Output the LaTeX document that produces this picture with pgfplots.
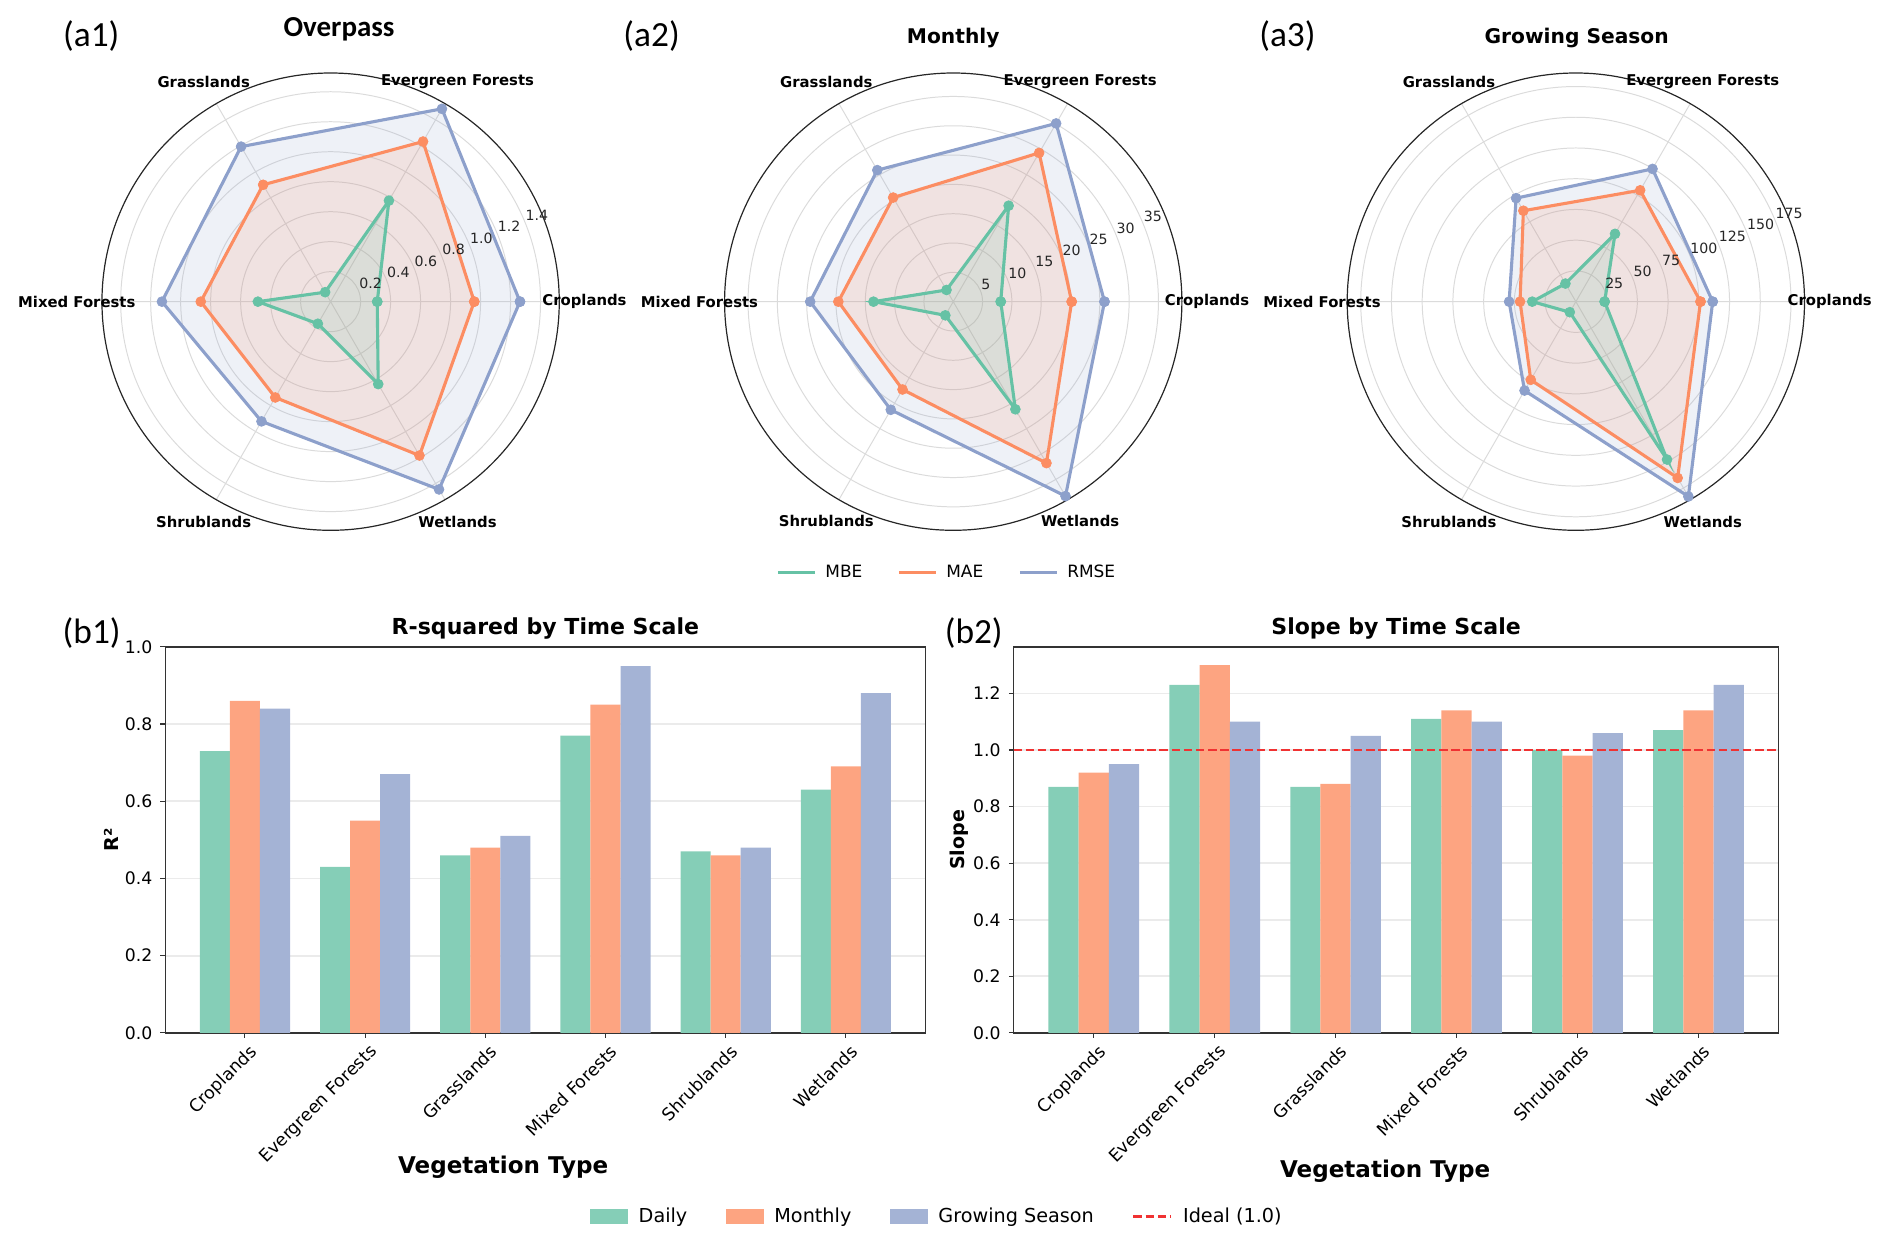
\documentclass[border=0pt]{standalone}
\usepackage{fontspec}
\setmainfont{DejaVu Sans}
\newfontfamily\carlito{Carlito}
\usepackage{pgfplots}
\pgfplotsset{compat=1.18}
\usepgfplotslibrary{polar}

\definecolor{mbe}{HTML}{66C2A5}
\definecolor{mae}{HTML}{FC8D62}
\definecolor{rmse}{HTML}{8DA0CB}
\definecolor{dailyc}{RGB}{133,206,183}
\definecolor{monthlyc}{RGB}{253,164,129}
\definecolor{growc}{RGB}{164,179,213}
\definecolor{idealc}{RGB}{240,50,50}

\newcommand{\fsz}[1]{\fontsize{#1pt}{#1pt}\selectfont}

\tikzset{
    catlabel/.style={font=\fsz{10.5}\bfseries, anchor=center, inner sep=0pt},
    rlabel/.style={font=\fsz{10}, text=black!85, anchor=south west, inner sep=0.5pt},
}

\pgfplotsset{
    radarStyle/.style={
        anchor=center,
        scale only axis, width=11.37cm, height=11.37cm,
        xmin=0, xmax=360, ymin=0,
        xtick={0,60,...,300},
        xticklabels={}, yticklabels={},
        major tick length=0pt,
        grid=major,
        major grid style={black!14, line width=0.7pt},
        x axis line style={black!85, line width=0.85pt},
        y axis line style={draw=none},
        clip=false,
    },
    radarseries/.style={
        draw=#1, line width=2.2pt, fill=#1, fill opacity=0.15,
        mark=*, mark size=3.5pt,
        mark options={fill=#1, draw=#1, fill opacity=1, draw opacity=1, line width=0.5pt}
    },
    barStyle/.style={
        anchor=south west,
        scale only axis, height=9.6cm,
        xmin=-0.6625, xmax=5.6625, ymin=0,
        xtick={0,...,5},
        xticklabels={Croplands,Evergreen Forests,Grasslands,Mixed Forests,Shrublands,Wetlands},
        xtick pos=bottom, ytick pos=left, tick align=outside,
        major tick length=0.12cm,
        tick style={black!80, line width=0.8pt},
        ymajorgrids,
        major grid style={black!8, line width=1.2pt},
        axis line style={black!80, line width=1.1pt},
        x tick label style={rotate=45, anchor=north east, font=\fsz{12.3}, inner sep=1pt, yshift=-0.12cm},
        y tick label style={font=\fsz{12.2}, xshift=-0.08cm},
        ybar, bar width=0.25,
    },
}

\begin{document}
\begin{tikzpicture}
\useasboundingbox (0,0) rectangle (47.04,30.96);

% ---------------- (a1) Overpass ----------------
\begin{polaraxis}[radarStyle, at={(8.22cm,23.46cm)}, ymax=1.525,
    ytick={0.2,0.4,0.6,0.8,1.0,1.2,1.4}]
\addplot[radarseries=rmse] coordinates {(0,1.263) (60,1.485) (120,1.194) (180,1.125) (240,0.922) (300,1.446) (360,1.263)};
\addplot[radarseries=mae] coordinates {(0,0.958) (60,1.233) (120,0.900) (180,0.866) (240,0.738) (300,1.185) (360,0.958)};
\addplot[radarseries=mbe] coordinates {(0,0.311) (60,0.778) (120,0.073) (180,0.485) (240,0.170) (300,0.635) (360,0.311)};
\node[catlabel] at (axis cs:0,1.693) {Croplands};
\node[catlabel] at (axis cs:60,1.693) {Evergreen Forests};
\node[catlabel] at (axis cs:120,1.693) {Grasslands};
\node[catlabel] at (axis cs:180,1.693) {Mixed Forests};
\node[catlabel] at (axis cs:240,1.693) {Shrublands};
\node[catlabel] at (axis cs:300,1.693) {Wetlands};
\node[rlabel] at (axis cs:22.5,0.2) {0.2};
\node[rlabel] at (axis cs:22.5,0.4) {0.4};
\node[rlabel] at (axis cs:22.5,0.6) {0.6};
\node[rlabel] at (axis cs:22.5,0.8) {0.8};
\node[rlabel] at (axis cs:22.5,1.0) {1.0};
\node[rlabel] at (axis cs:22.5,1.2) {1.2};
\node[rlabel] at (axis cs:22.5,1.4) {1.4};
\end{polaraxis}

% ---------------- (a2) Monthly ----------------
\begin{polaraxis}[radarStyle, at={(23.70cm,23.46cm)}, ymax=39.0,
    ytick={5,10,...,35}]
\addplot[radarseries=rmse] coordinates {(0,25.8) (60,35.1) (120,25.9) (180,24.4) (240,21.3) (300,38.3) (360,25.8)};
\addplot[radarseries=mae] coordinates {(0,20.2) (60,29.3) (120,20.5) (180,19.6) (240,17.3) (300,31.8) (360,20.2)};
\addplot[radarseries=mbe] coordinates {(0,8.1) (60,18.9) (120,2.3) (180,13.6) (240,2.7) (300,21.2) (360,8.1)};
\node[catlabel] at (axis cs:0,43.29) {Croplands};
\node[catlabel] at (axis cs:60,43.29) {Evergreen Forests};
\node[catlabel] at (axis cs:120,43.29) {Grasslands};
\node[catlabel] at (axis cs:180,43.29) {Mixed Forests};
\node[catlabel] at (axis cs:240,43.29) {Shrublands};
\node[catlabel] at (axis cs:300,43.29) {Wetlands};
\node[rlabel] at (axis cs:22.5,5) {5};
\node[rlabel] at (axis cs:22.5,10) {10};
\node[rlabel] at (axis cs:22.5,15) {15};
\node[rlabel] at (axis cs:22.5,20) {20};
\node[rlabel] at (axis cs:22.5,25) {25};
\node[rlabel] at (axis cs:22.5,30) {30};
\node[rlabel] at (axis cs:22.5,35) {35};
\end{polaraxis}

% ---------------- (a3) Growing Season ----------------
\begin{polaraxis}[radarStyle, at={(39.18cm,23.46cm)}, ymax=186,
    ytick={25,50,...,175}]
\addplot[radarseries=rmse] coordinates {(0,111.3) (60,124.7) (120,97.2) (180,54.3) (240,83.5) (300,183.0) (360,111.3)};
\addplot[radarseries=mae] coordinates {(0,101.4) (60,104.6) (120,85.4) (180,45.4) (240,73.4) (300,165.6) (360,101.4)};
\addplot[radarseries=mbe] coordinates {(0,23.4) (60,63.7) (120,17.0) (180,35.5) (240,9.9) (300,148.3) (360,23.4)};
\node[catlabel] at (axis cs:0,206.5) {Croplands};
\node[catlabel] at (axis cs:60,206.5) {Evergreen Forests};
\node[catlabel] at (axis cs:120,206.5) {Grasslands};
\node[catlabel] at (axis cs:180,206.5) {Mixed Forests};
\node[catlabel] at (axis cs:240,206.5) {Shrublands};
\node[catlabel] at (axis cs:300,206.5) {Wetlands};
\node[rlabel] at (axis cs:22.5,25) {25};
\node[rlabel] at (axis cs:22.5,50) {50};
\node[rlabel] at (axis cs:22.5,75) {75};
\node[rlabel] at (axis cs:22.5,100) {100};
\node[rlabel] at (axis cs:22.5,125) {125};
\node[rlabel] at (axis cs:22.5,150) {150};
\node[rlabel] at (axis cs:22.5,175) {175};
\end{polaraxis}

% radar legend
\begin{axis}[hide axis, at={(23.55cm,16.72cm)}, anchor=center,
    scale only axis, width=1cm, height=1cm, xmin=0, xmax=1, ymin=0, ymax=1,
    legend columns=3,
    legend image code/.code={\draw[#1] (0cm,0cm) -- (0.93cm,0cm);},
    legend style={at={(0.5,0.5)}, anchor=center, draw=none, fill=none,
        font=\fsz{12}, inner sep=0pt,
        /tikz/every odd column/.style={column sep=0.14cm},
        /tikz/every even column/.style={column sep=0.8cm}}]
\addlegendimage{mbe, line width=2.2pt}
\addlegendentry{MBE}
\addlegendimage{mae, line width=2.2pt}
\addlegendentry{MAE}
\addlegendimage{rmse, line width=2.2pt}
\addlegendentry{RMSE}
\end{axis}

% ---------------- (b1) R-squared ----------------
\begin{axis}[barStyle, at={(4.11cm,5.28cm)}, width=18.9cm, ymax=1.0,
    ytick={0,0.2,0.4,0.6,0.8,1.0}, yticklabels={0.0,0.2,0.4,0.6,0.8,1.0}]
\addplot[fill=dailyc, draw=none, bar shift=-0.25] coordinates {(0,0.73) (1,0.43) (2,0.46) (3,0.77) (4,0.47) (5,0.63)};
\addplot[fill=monthlyc, draw=none, bar shift=0] coordinates {(0,0.86) (1,0.55) (2,0.48) (3,0.85) (4,0.46) (5,0.69)};
\addplot[fill=growc, draw=none, bar shift=0.25] coordinates {(0,0.84) (1,0.67) (2,0.51) (3,0.95) (4,0.48) (5,0.88)};
\end{axis}

% ---------------- (b2) Slope ----------------
\begin{axis}[barStyle, at={(25.2cm,5.28cm)}, width=19.02cm, ymax=1.365,
    ytick={0,0.2,0.4,0.6,0.8,1.0,1.2}, yticklabels={0.0,0.2,0.4,0.6,0.8,1.0,1.2}]
\addplot[fill=dailyc, draw=none, bar shift=-0.25] coordinates {(0,0.87) (1,1.23) (2,0.87) (3,1.11) (4,1.00) (5,1.07)};
\addplot[fill=monthlyc, draw=none, bar shift=0] coordinates {(0,0.92) (1,1.30) (2,0.88) (3,1.14) (4,0.98) (5,1.14)};
\addplot[fill=growc, draw=none, bar shift=0.25] coordinates {(0,0.95) (1,1.10) (2,1.05) (3,1.10) (4,1.06) (5,1.23)};
\addplot[sharp plot, color=idealc, line width=1.9pt, dash pattern=on 6pt off 2.6pt] coordinates {(-0.6625,1.0) (5.6625,1.0)};
\end{axis}

% bar legend
\begin{axis}[hide axis, at={(23.30cm,0.72cm)}, anchor=center,
    scale only axis, width=1cm, height=1cm, xmin=0, xmax=1, ymin=0, ymax=1,
    legend columns=4,
    legend style={at={(0.5,0.5)}, anchor=center, draw=none, fill=none,
        font=\fsz{13.6}, inner sep=0pt,
        /tikz/every odd column/.style={column sep=0.2cm},
        /tikz/every even column/.style={column sep=0.88cm}}]
\addlegendimage{legend image code/.code={\fill[dailyc] (0cm,-0.18cm) rectangle (0.93cm,0.18cm);}}
\addlegendentry{Daily}
\addlegendimage{legend image code/.code={\fill[monthlyc] (0cm,-0.18cm) rectangle (0.93cm,0.18cm);}}
\addlegendentry{Monthly}
\addlegendimage{legend image code/.code={\fill[growc] (0cm,-0.18cm) rectangle (0.93cm,0.18cm);}}
\addlegendentry{Growing Season}
\addlegendimage{legend image code/.code={\draw[idealc, line width=1.9pt, dash pattern=on 6pt off 2.6pt] (0cm,0cm) -- (0.93cm,0cm);}}
\addlegendentry{Ideal (1.0)}
\end{axis}

% ---------------- texts ----------------
\node[font=\carlito\fsz{25}] at (2.27,30.06) {(a1)};
\node[font=\carlito\fsz{25}] at (16.20,30.06) {(a2)};
\node[font=\carlito\fsz{25}] at (32.01,30.06) {(a3)};
\node[font=\carlito\fsz{25}] at (2.28,15.21) {(b1)};
\node[font=\carlito\fsz{25}] at (24.21,15.21) {(b2)};
\node[font=\carlito\bfseries\fsz{20.5}] at (8.43,30.23) {Overpass};
\node[font=\bfseries\fsz{14.3}] at (23.70,30.02) {Monthly};
\node[font=\bfseries\fsz{14.3}] at (39.20,30.02) {Growing Season};
\node[font=\bfseries\fsz{15.6}] at (13.56,15.33) {R-squared by Time Scale};
\node[font=\bfseries\fsz{15.6}] at (34.71,15.33) {Slope by Time Scale};
\node[font=\bfseries\fsz{16.3}] at (12.51,1.95) {Vegetation Type};
\node[font=\bfseries\fsz{16.3}] at (34.44,1.83) {Vegetation Type};
\node[font=\bfseries\fsz{13.5}, rotate=90] at (2.78,10.08) {R²};
\node[font=\bfseries\fsz{13.5}, rotate=90] at (23.85,10.08) {Slope};
\end{tikzpicture}
\end{document}
